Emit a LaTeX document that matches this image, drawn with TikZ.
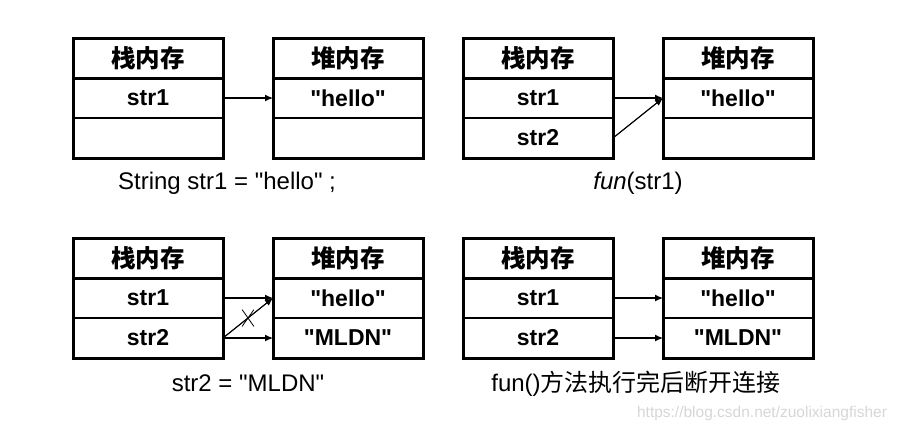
\documentclass[tikz,border=0pt]{standalone}
\usepackage{fontspec}
\setmainfont{Liberation Sans}
\newfontfamily\cjk{Noto Sans CJK SC}
\usetikzlibrary{arrows.meta, positioning, shapes.misc}
\newcommand{\qq}[1]{\textquotedbl#1\textquotedbl}

\begin{document}
\begin{tikzpicture}[x=1pt, y=-1pt]

\tikzset{cell/.style = {draw, line width=1.4pt, outer sep=0pt, inner sep=0pt, minimum width=150pt, minimum height=40pt, font=\fontsize{23}{26}\selectfont\bfseries}}
\tikzset{head/.style = {cell, font=\cjk\fontsize{24.5}{28}\selectfont\bfseries}}
\tikzset{frame/.style = {line width=3pt}}
\tikzset{link/.style = {-{Latex[length=8pt, width=7pt]}, line width=1.2pt}}
\tikzset{caption/.style = {font=\fontsize{24}{28}\selectfont}}

\useasboundingbox (0,0) rectangle (901,432);

% tables
\foreach \p/\x/\y/\stwo/\htwo in {a/73/38/{}/{}, b/463/38/str2/{}, c/73/238/str2/\qq{MLDN}, d/463/238/str2/\qq{MLDN}} {
  \node[head, anchor=north west] (\p-s0) at (\x,\y) {栈内存};
  \node[cell, below=0pt of \p-s0] (\p-s1) {str1};
  \node[cell, below=0pt of \p-s1] (\p-s2) {\stwo};
  \node[head, right=50pt of \p-s0] (\p-h0) {堆内存};
  \node[cell, below=0pt of \p-h0] (\p-h1) {\qq{hello}};
  \node[cell, below=0pt of \p-h1] (\p-h2) {\htwo};
  \draw[frame] (\p-s0.north west) rectangle (\p-s2.south east);
  \draw[frame] (\p-s0.south west) -- (\p-s0.south east);
  \draw[frame] (\p-h0.north west) rectangle (\p-h2.south east);
  \draw[frame] (\p-h0.south west) -- (\p-h0.south east);
}

% references
\draw[link] (a-s1.east) -- (a-h1.west);
\draw[link] (b-s1.east) -- (b-h1.west);
\draw[link] (b-s2.east) -- (b-h1.west);
\draw[link] (c-s1.east) -- (c-h1.west);
\draw[link] (c-s2.east) -- node[cross out, draw, line width=0.8pt, minimum width=11pt, minimum height=16pt] (cut) {} (c-h1.west);
\draw[link] (c-s2.east) -- (c-h2.west);
\draw[link] (d-s1.east) -- (d-h1.west);
\draw[link] (d-s2.east) -- (d-h2.west);

% captions
\node[caption] (capa) at (227,183) {String str1 = \qq{hello} ;};
\node[caption] (capb) at (638,183) {\textit{fun}(str1)};
\node[caption] (capc) at (248,383) {str2 = \qq{MLDN}};
\node[caption] (capd) at (636,384) {fun()\cjk 方法执行完后断开连接};
\node[font=\fontsize{15.5}{18}\selectfont, text=black!16] (mark) at (762,413) {https://blog.csdn.net/zuolixiangfisher};
\end{tikzpicture}
\end{document}
